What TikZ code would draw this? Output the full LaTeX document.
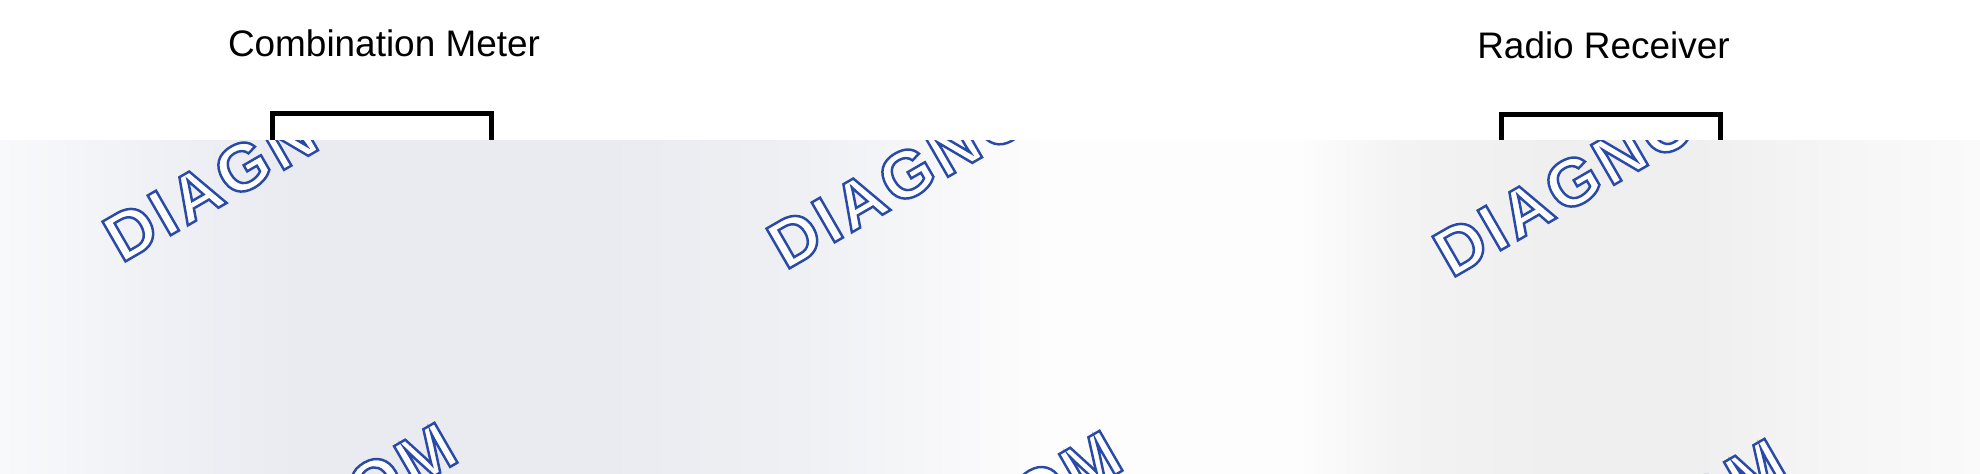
\documentclass[tikz,border=0pt]{standalone}
\usepackage{fontspec}
\setmainfont{Liberation Sans}
\usetikzlibrary{positioning}
\definecolor{wm-blue}{HTML}{2A4AA8}
\definecolor{pnl-a}{HTML}{F8F9FB}
\definecolor{pnl-b}{HTML}{EFF1F5}
\definecolor{pnl-c}{HTML}{E9EBF1}
\definecolor{pnl-d}{HTML}{EEF0F3}
\definecolor{pnl-e}{HTML}{F8F8FA}
\definecolor{pnl-f}{HTML}{FDFDFD}
\definecolor{pnl-g}{HTML}{F3F3F4}
\definecolor{pnl-h}{HTML}{EFEFF0}
\definecolor{pnl-i}{HTML}{F6F6F6}
\definecolor{pnl-j}{HTML}{FAFAFA}
\pgfdeclarehorizontalshading{panelshading}{100bp}{color(0bp)=(pnl-a); color(25bp)=(pnl-a); color(28.8bp)=(pnl-b); color(32.6bp)=(pnl-c); color(40.2bp)=(pnl-c); color(45.2bp)=(pnl-d); color(49bp)=(pnl-e); color(51.5bp)=(pnl-f); color(57.8bp)=(pnl-f); color(60.4bp)=(pnl-g); color(64.1bp)=(pnl-h); color(67.9bp)=(pnl-h); color(71.7bp)=(pnl-i); color(75bp)=(pnl-j); color(100bp)=(pnl-j)}
\newdimen\wpx
\setlength{\wpx}{0.01cm}
\tikzstyle{titlestyle}=[inner sep=0pt,anchor=base,font=\fontsize{10.5}{12}\selectfont]
\tikzstyle{unitstyle}=[shape=rectangle,draw,line width=5\wpx,inner sep=0pt,outer sep=0pt,anchor=north west,minimum height=150\wpx]
\tikzstyle{markstyle}=[inner sep=0pt,rotate=30,text=wm-blue,font=\fontsize{19}{22}\selectfont\bfseries\addfontfeature{LetterSpace=6}]
\newcommand{\wmrender}[1]{\special{pdf:literal direct 1 1 1 rg 2 Tr 0.7 w}#1\special{pdf:literal direct 0 Tr}}
\newcommand{\ecuunit}[7]{ \draw (#3 \wpx,#4 \wpx) node [style=titlestyle] (#1name) {#2}; \draw (#5 \wpx,#6 \wpx) node [style=unitstyle,minimum width=#7 \wpx] (#1box) {}; }
\newcommand{\wmhead}[3]{ \draw (#2 \wpx,#3 \wpx) node [style=markstyle,anchor=base west] (#1) {\wmrender{DIAGNO}}; }
\newcommand{\wmtail}[3]{ \draw (#2 \wpx,#3 \wpx) node [style=markstyle,anchor=base east] (#1) {\wmrender{OM}}; }

\begin{document}
\begin{tikzpicture}
\useasboundingbox (0,0) rectangle (1980\wpx,473\wpx);
\ecuunit{meter}{Combination Meter}{384}{416}{272.5}{359.5}{218.5} %
\ecuunit{radio}{Radio Receiver}{1603.5}{414}{1501.5}{358.5}{219} %
\shade[shading=panelshading] (0,0) rectangle (1980\wpx,332\wpx);
\begin{scope}
\clip (0,0) rectangle (1980\wpx,332\wpx);
\wmhead{headA}{121}{209} %
\wmhead{headB}{785}{202} %
\wmhead{headC}{1451}{194} %
\wmtail{tailA}{462}{13} %
\wmtail{tailB}{1127}{5} %
\wmtail{tailC}{1792}{-3} %
\end{scope}
\end{tikzpicture}
\end{document}
